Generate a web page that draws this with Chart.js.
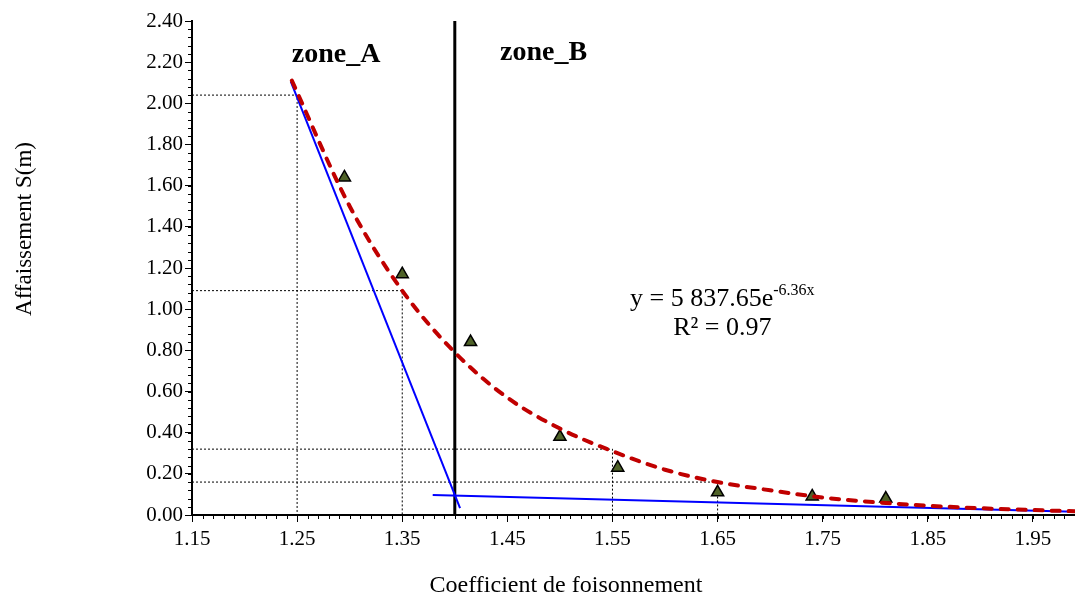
<!DOCTYPE html>
<html>
<head>
<meta charset="utf-8">
<script src="https://cdn.jsdelivr.net/npm/chart.js@4/dist/chart.umd.min.js"></script>
<style>
  html, body { margin: 0; padding: 0; background: #fff; overflow: hidden; }
  canvas { display: block; }
</style>
</head>
<body>
<canvas id="chart" width="1075" height="596"></canvas>
<script>
// observed points
const obsX = [1.295, 1.35, 1.415, 1.50, 1.555, 1.65, 1.74, 1.81];
const obsY = [1.64, 1.17, 0.84, 0.38, 0.23, 0.11, 0.09, 0.08];

// exponential trend curve
const fitX = [1.245, 1.30, 1.35, 1.40, 1.45, 1.50, 1.55, 1.60, 1.65, 1.70, 1.75, 1.80, 1.85, 1.90, 1.95, 1.99];
const fitY = [2.11, 1.50, 1.09, 0.79, 0.57, 0.42, 0.31, 0.22, 0.16, 0.12, 0.085, 0.062, 0.045, 0.033, 0.024, 0.018];

// the two blue tangent lines
const lineAX = [1.244, 1.405];
const lineAY = [2.105, 0.033];
const lineBX = [1.379, 1.99];
const lineBY = [0.097, 0.016];

// zone limit and read-off points (dotted guides)
const zoneLimit = 1.40;
const readX = [1.25, 1.35, 1.55, 1.65];
const readY = [2.04, 1.09, 0.32, 0.16];

const xTicks = [1.15, 1.25, 1.35, 1.45, 1.55, 1.65, 1.75, 1.85, 1.95];
const yTicks = [0, 0.2, 0.4, 0.6, 0.8, 1.0, 1.2, 1.4, 1.6, 1.8, 2.0, 2.2, 2.4];

const FONT = '"Liberation Serif", "Times New Roman", serif';
const xMin = 1.15, xMax = 1.99;

const pts = (xs, ys) => xs.map((x, i) => ({ x: x, y: ys[i] }));

const guides = readX.map((x, i) => ({
    data: [{ x: xMin, y: readY[i] }, { x: x, y: readY[i] }, { x: x, y: 0 }],
    showLine: true,
    borderColor: "#000",
    borderWidth: 1,
    borderDash: [2, 2],
    pointRadius: 0,
}));

const extras = {
    id: "extras",
    afterDraw(chart) {
        const ctx = chart.ctx;
        const xs = chart.scales.x, ys = chart.scales.y;
        ctx.save();
        ctx.strokeStyle = "#000";
        ctx.lineWidth = 1;
        // minor ticks
        ctx.beginPath();
        for (let v = 1.15; v <= xMax + 1e-9; v += 0.01) {
            const px = Math.round(xs.getPixelForValue(v)) + 0.5;
            ctx.moveTo(px, ys.bottom);
            ctx.lineTo(px, ys.bottom + 4);
        }
        for (let v = 0; v <= 2.4 + 1e-9; v += 0.04) {
            const py = Math.round(ys.getPixelForValue(v)) + 0.5;
            ctx.moveTo(xs.left - 4, py);
            ctx.lineTo(xs.left, py);
        }
        ctx.stroke();

        ctx.fillStyle = "#000";
        ctx.textBaseline = "alphabetic";
        // zone labels
        ctx.font = "bold 28px " + FONT;
        ctx.textAlign = "left";
        ctx.fillText("zone_A", xs.getPixelForValue(1.245), ys.getPixelForValue(2.2));
        ctx.fillText("zone_B", xs.getPixelForValue(1.443), ys.getPixelForValue(2.21));

        // equation
        const cx = xs.getPixelForValue(1.6545);
        const main = "y = 5 837.65e", sup = "-6.36x";
        ctx.font = "26px " + FONT;
        const wMain = ctx.measureText(main).width;
        ctx.font = "16px " + FONT;
        const wSup = ctx.measureText(sup).width;
        const x0 = cx - (wMain + wSup) / 2;
        const yb = ys.getPixelForValue(1.016);
        ctx.font = "26px " + FONT;
        ctx.fillText(main, x0, yb);
        ctx.font = "16px " + FONT;
        ctx.fillText(sup, x0 + wMain, yb - 11);
        ctx.font = "26px " + FONT;
        ctx.textAlign = "center";
        ctx.fillText("R\u00b2 = 0.97", cx, ys.getPixelForValue(0.875));

        // axis titles
        ctx.font = "24px " + FONT;
        ctx.fillText("Coefficient de foisonnement", 566, 592);
        ctx.font = "23px " + FONT;
        ctx.translate(31, 229);
        ctx.rotate(-Math.PI / 2);
        ctx.fillText("Affaissement S(m)", 0, 0);
        ctx.restore();
    },
};

new Chart(document.getElementById("chart"), {
    type: "scatter",
    data: {
        datasets: [
            {
                data: pts(fitX, fitY),
                showLine: true,
                borderColor: "#c00000",
                borderWidth: 4,
                borderDash: [8, 9],
                borderCapStyle: "round",
                cubicInterpolationMode: "monotone",
                pointRadius: 0,
            },
            {
                data: pts(obsX, obsY),
                pointStyle: "triangle",
                pointRadius: 7,
                backgroundColor: "#4f6228",
                borderColor: "#000",
                borderWidth: 1.5,
            },
            {
                data: pts(lineAX, lineAY),
                showLine: true,
                borderColor: "#0000ff",
                borderWidth: 2,
                pointRadius: 0,
            },
            {
                data: pts(lineBX, lineBY),
                showLine: true,
                borderColor: "#0000ff",
                borderWidth: 2,
                pointRadius: 0,
            },
            {
                data: [{ x: zoneLimit, y: 0 }, { x: zoneLimit, y: 2.4 }],
                showLine: true,
                borderColor: "#000",
                borderWidth: 3,
                pointRadius: 0,
            },
            ...guides,
        ],
    },
    options: {
        responsive: false,
        animation: false,
        layout: { autoPadding: false, padding: { top: 21, right: 0, left: 0, bottom: 0 } },
        plugins: {
            legend: { display: false },
            tooltip: { enabled: false },
        },
        scales: {
            x: {
                type: "linear",
                min: xMin,
                max: xMax,
                afterBuildTicks: (s) => { s.ticks = xTicks.map((v) => ({ value: v })); },
                afterFit: (s) => { s.height = 81; s.paddingRight = 0; s.paddingLeft = 0; },
                border: { color: "#000", width: 2 },
                grid: { drawOnChartArea: false, drawTicks: true, tickLength: 7, color: "#000" },
                ticks: {
                    color: "#000",
                    padding: 5,
                    maxRotation: 0,
                    font: { family: FONT, size: 21 },
                    callback: (v) => Number(v).toFixed(2),
                },
            },
            y: {
                type: "linear",
                min: 0,
                max: 2.4,
                afterBuildTicks: (s) => { s.ticks = yTicks.map((v) => ({ value: v })); },
                afterFit: (s) => { s.width = 192; },
                border: { color: "#000", width: 2 },
                grid: { drawOnChartArea: false, drawTicks: true, tickLength: 7, color: "#000" },
                ticks: {
                    color: "#000",
                    padding: 2,
                    font: { family: FONT, size: 21 },
                    callback: (v) => Number(v).toFixed(2),
                },
            },
        },
    },
    plugins: [extras],
});
</script>
</body>
</html>
